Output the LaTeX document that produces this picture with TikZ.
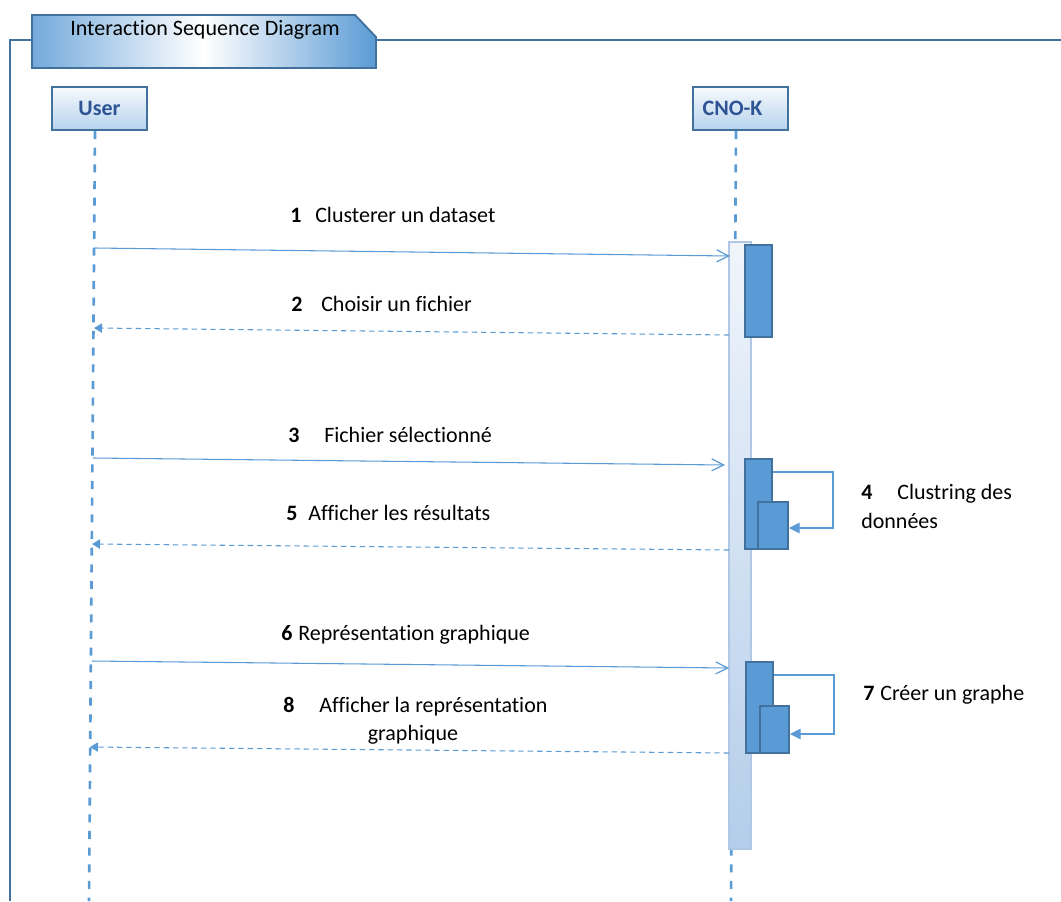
\documentclass[tikz,border=0pt]{standalone}
\usepackage{fontspec}
\setmainfont{Carlito}[Ligatures=NoCommon]
\usetikzlibrary{arrows.meta}
\definecolor{lineblue}{HTML}{5B9BD5}
\definecolor{edgeblue}{HTML}{41719C}
\definecolor{nameblue}{HTML}{2F5496}
\definecolor{barlight}{HTML}{F0F5FB}
\definecolor{bardark}{HTML}{B4CDEA}
\definecolor{baredge}{HTML}{B0C8E6}
\tikzset{
  frameline/.style={draw=edgeblue, line width=1.6pt},
  tabshape/.style={draw=edgeblue, line width=1.4pt, left color=lineblue!85, right color=lineblue, middle color=white},
  lifebox/.style={draw=edgeblue, line width=1.6pt, top color=white!80!lineblue!25, bottom color=lineblue!45,
    minimum width=71.25pt, minimum height=32.25pt, inner sep=0pt, text=nameblue, font=\fontsize{16.5}{19}\selectfont\bfseries},
  lifeline/.style={draw=lineblue, line width=2pt, dash pattern=on 6pt off 6.5pt},
  actbar/.style={draw=baredge, line width=1pt, top color=barlight, bottom color=bardark},
  execbox/.style={draw=edgeblue, line width=1.5pt, fill=lineblue},
  callmsg/.style={draw=lineblue, line width=0.8pt, -{Straight Barb[length=9pt,width=9pt,line width=0.9pt]}},
  replymsg/.style={draw=lineblue, line width=0.8pt, dash pattern=on 4pt off 3pt, -{Triangle[length=6pt,width=7pt]}},
  selfmsg/.style={draw=lineblue, line width=0.8pt, -{Triangle[length=8pt,width=8pt]}},
  num/.style={anchor=base west, inner sep=0pt, font=\fontsize{16.5}{19}\selectfont\bfseries},
  msgtext/.style={anchor=base west, inner sep=0pt, font=\fontsize{16.5}{19}\selectfont},
}
\begin{document}
\begin{tikzpicture}[x=0.75pt, y=-0.75pt]
\useasboundingbox (0,0) rectangle (1061,901);

% enclosing frame and title tab
\draw[frameline] (32,40) -- (10,40) -- (10,901);
\draw[frameline] (376,40) -- (1061,40);
\path[tabshape] (32,15) -- (355,15) -- (376,37) -- (376,68) -- (32,68) -- cycle;
\node[inner sep=0pt, font=\fontsize{16.5}{19}\selectfont] (title) at (205,30) {Interaction Sequence Diagram};

% participants
\node[lifebox] (user) at (99.5,108.5) {User};
\node[lifebox] (cnok) at (740.5,108.5) {CNO-K\hspace*{12pt}};

% lifelines
\coordinate (uTop) at (95,131);
\coordinate (uBot) at (89,901);
\coordinate (cTop) at (736,131);
\coordinate (cBot) at (731,901);
\draw[lifeline] (uTop) -- (uBot);
\draw[lifeline] (cTop) -- (cBot);

% activation bar of CNO-K
\path[actbar] (729,242) rectangle (751,849);
\coordinate (barL1) at (730,256);
\coordinate (barL2) at (729,335);
\coordinate (barL3) at (725,465);
\coordinate (barL5) at (729,550);
\coordinate (barL6) at (729,668);
\coordinate (barL8) at (729,753);

% executions
\node[execbox, inner sep=0pt, minimum width=20.25pt, minimum height=69pt] (exA) at (758.5,291) {};
\node[execbox, inner sep=0pt, minimum width=20.25pt, minimum height=67.5pt] (exB) at (758.5,504) {};
\node[execbox, inner sep=0pt, minimum width=22.5pt, minimum height=35.25pt] (exB2) at (773,525.5) {};
\node[execbox, inner sep=0pt, minimum width=20.25pt, minimum height=68.25pt] (exC) at (759.5,707.5) {};
\node[execbox, inner sep=0pt, minimum width=21.75pt, minimum height=35.25pt] (exC2) at (774.5,729.5) {};

% user-side message ends
\coordinate (u1) at (95,248);
\coordinate (u2) at (94,328);
\coordinate (u3) at (93,458);
\coordinate (u5) at (92,544);
\coordinate (u6) at (92,661);
\coordinate (u8) at (90,747);

% messages
\draw[callmsg] (u1) -- (barL1);
\draw[replymsg] (barL2) -- (u2);
\draw[callmsg] (u3) -- (barL3);
\draw[replymsg] (barL5) -- (u5);
\draw[callmsg] (u6) -- (barL6);
\draw[replymsg] (barL8) -- (u8);

% self calls
\coordinate (s4a) at (833,472);
\coordinate (s4b) at (833,528);
\draw[selfmsg] (exB.east |- s4a) -- (s4a) -- (s4b) -- (exB2.east |- s4b);
\coordinate (s7a) at (834,675);
\coordinate (s7b) at (834,734);
\draw[selfmsg] (exC.east |- s7a) -- (s7a) -- (s7b) -- (exC2.east |- s7b);

% labels
\node[num] (n1) at (290,222) {1};
\node[msgtext] (t1) at (315,222) {Clusterer un dataset};
\node[num] (n2) at (291,311) {2};
\node[msgtext] (t2) at (321,311) {Choisir un fichier};
\node[num] (n3) at (288,442) {3};
\node[msgtext] (t3) at (324,442) {Fichier sélectionné};
\node[num] (n5) at (286,520) {5};
\node[msgtext] (t5) at (308,520) {Afficher les résultats};
\node[num] (n6) at (281,640) {6};
\node[msgtext] (t6) at (298,640) {Représentation graphique};
\node[num] (n8) at (283,712) {8};
\node[msgtext] (t8) at (319,712) {Afficher la représentation};
\node[msgtext, anchor=base] (t8b) at (413,740) {graphique};
\node[num] (n4) at (861,499) {4};
\node[msgtext] (t4) at (897,499) {Clustring des};
\node[msgtext] (t4b) at (861,528) {données};
\node[num] (n7) at (863,700) {7};
\node[msgtext] (t7) at (880,700) {Créer un graphe};
\end{tikzpicture}
\end{document}
